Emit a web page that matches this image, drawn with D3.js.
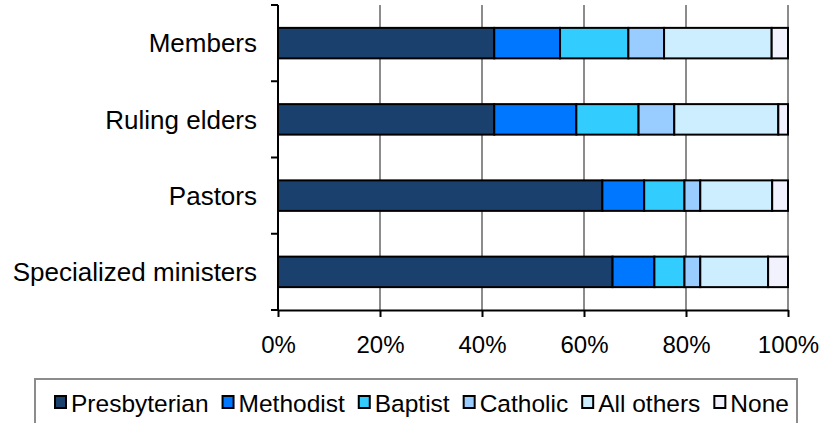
<!DOCTYPE html>
<html lang="en">
  <head>
    <meta charset="utf-8" />
    <script src="https://cdn.jsdelivr.net/npm/d3@7/dist/d3.min.js"></script>
    <style>
      body { margin: 0; background: #fff; }
      text { font-family: "Liberation Sans", Arial, sans-serif; fill: #000; }
    </style>
  </head>
  <body>
    <div id="container"></div>
    <script>
      const categories = ["Members", "Ruling elders", "Pastors", "Specialized ministers"];
      const seriesNames = ["Presbyterian", "Methodist", "Baptist", "Catholic", "All others", "None"];
      const presbyterian = [42.4, 42.4, 63.6, 65.6];
      const methodist = [12.9, 16.1, 8.2, 8.2];
      const baptist = [13.4, 12.2, 7.9, 5.9];
      const catholic = [7.0, 7.0, 3.1, 3.1];
      const allOthers = [21.1, 20.4, 14.1, 13.3];
      const none = [3.2, 1.9, 3.1, 3.9];
      const xTicks = [0, 0.2, 0.4, 0.6, 0.8, 1];

      const colors = ["#1a416e", "#0077ff", "#33ccff", "#99ccff", "#cceeff", "#f2f2ff"];

      const width = 836, height = 423;
      const margin = { top: 5, left: 278, right: 48, bottom: 113 };

      const rows = categories.map((c, i) => ({
        cat: c,
        Presbyterian: presbyterian[i],
        Methodist: methodist[i],
        Baptist: baptist[i],
        Catholic: catholic[i],
        "All others": allOthers[i],
        None: none[i]
      }));
      const stacked = d3.stack().keys(seriesNames).offset(d3.stackOffsetExpand)(rows);

      const svg = d3.select("#container").append("svg").attr("width", width).attr("height", height);

      const x = d3.scaleLinear().domain([0, 1]).range([margin.left, width - margin.right]);
      const y = d3.scaleBand().domain(categories).range([margin.top, height - margin.bottom]).paddingInner(0.6).paddingOuter(0.3);

      // gridlines
      svg.append("g").selectAll("line").data(xTicks.slice(1)).join("line")
        .attr("x1", (d) => x(d)).attr("x2", (d) => x(d))
        .attr("y1", margin.top).attr("y2", height - margin.bottom)
        .attr("stroke", "#8c8c8c").attr("stroke-width", 2);

      // bars
      svg.append("g").selectAll("g").data(stacked).join("g")
        .attr("fill", (d, i) => colors[i])
        .selectAll("rect").data((d) => d).join("rect")
        .attr("x", (d) => x(d[0]))
        .attr("width", (d) => x(d[1]) - x(d[0]))
        .attr("y", (d) => y(d.data.cat))
        .attr("height", y.bandwidth())
        .attr("stroke", "#000").attr("stroke-width", 2);

      // x axis
      const xAxis = svg.append("g").attr("transform", `translate(0,${height - margin.bottom})`)
        .call(d3.axisBottom(x).tickValues(xTicks).tickFormat(d3.format(".0%")).tickSize(7).tickSizeOuter(0));
      xAxis.select(".domain").attr("stroke", "#000").attr("stroke-width", 2);
      xAxis.selectAll(".tick line").attr("stroke", "#000").attr("stroke-width", 2);
      xAxis.selectAll("text").attr("font-size", 24).attr("y", 43).attr("dy", null)
        .style("font-family", "Liberation Sans, Arial, sans-serif");

      // y axis
      const step = (height - margin.bottom - margin.top) / categories.length;
      const yAxis = svg.append("g");
      yAxis.append("line").attr("x1", margin.left).attr("x2", margin.left)
        .attr("y1", margin.top).attr("y2", height - margin.bottom)
        .attr("stroke", "#000").attr("stroke-width", 2);
      yAxis.selectAll(".yt").data(d3.range(categories.length + 1)).join("line")
        .attr("x1", margin.left - 7).attr("x2", margin.left)
        .attr("y1", (d) => margin.top + d * step).attr("y2", (d) => margin.top + d * step)
        .attr("stroke", "#000").attr("stroke-width", 2);
      yAxis.selectAll("text").data(categories).join("text")
        .attr("x", margin.left - 21)
        .attr("y", (d) => y(d) + y.bandwidth() / 2)
        .attr("dy", "0.36em")
        .attr("text-anchor", "end")
        .attr("font-size", 26)
        .text((d) => d);

      // legend
      const legend = svg.append("g");
      legend.append("rect").attr("x", 35).attr("y", 379).attr("width", 762).attr("height", 46)
        .attr("fill", "#fff").attr("stroke", "#8c8c8c").attr("stroke-width", 2);
      let lx = 54;
      seriesNames.forEach((s, i) => {
        const g = legend.append("g").attr("transform", `translate(${lx},0)`);
        g.append("rect").attr("x", 1).attr("y", 396).attr("width", 11).attr("height", 12)
          .attr("fill", colors[i]).attr("stroke", "#000").attr("stroke-width", 2);
        const t = g.append("text").attr("x", 17).attr("y", 412).attr("font-size", 24.5).text(s);
        const w = t.node().getComputedTextLength();
        lx += 17 + w + 13;
      });
    </script>
  </body>
</html>
